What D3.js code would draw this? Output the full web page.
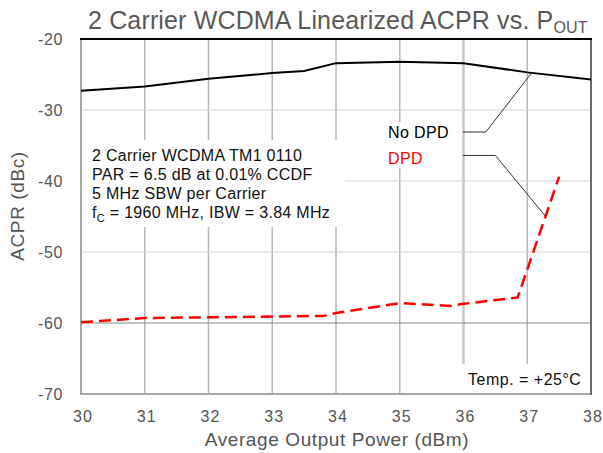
<!DOCTYPE html>
<html>
<head>
<meta charset="utf-8">
<script src="https://cdn.jsdelivr.net/npm/d3@7"></script>
<style>
  body { margin: 0; background: #fff; }
  text { font-family: "Liberation Sans", Arial, sans-serif; }
</style>
</head>
<body>
<svg id="chart" width="603" height="453"></svg>
<script>
// values
const xTicks = [30, 31, 32, 33, 34, 35, 36, 37, 38];
const yTicks = [-20, -30, -40, -50, -60, -70];

const noDpdX = [30, 31, 32, 33, 33.5, 34, 35, 36, 37, 38];
const noDpdY = [-27.3, -26.7, -25.6, -24.8, -24.5, -23.4, -23.2, -23.4, -24.7, -25.7];

const dpdX = [30, 31, 32, 33, 33.8, 34, 35, 35.8, 36, 36.85, 37.5];
const dpdY = [-59.9, -59.3, -59.2, -59.1, -59.0, -58.6, -57.2, -57.6, -57.3, -56.4, -39.4];

const infoLines = [
  "2 Carrier WCDMA TM1 0110",
  "PAR = 6.5 dB at 0.01% CCDF",
  "5 MHz SBW per Carrier"
];

const svg = d3.select("#chart");
const plotL = 81, plotR = 591, plotT = 39, plotB = 394;

const x = d3.scaleLinear().domain([30, 38]).range([plotL, plotR]);
const y = d3.scaleLinear().domain([-70, -20]).range([plotB, plotT]);

// gridlines
svg.append("g").selectAll("line")
  .data(xTicks.slice(1, -1))
  .join("line")
  .attr("x1", d => x(d)).attr("x2", d => x(d))
  .attr("y1", plotT).attr("y2", plotB)
  .attr("stroke", d => d === 36 ? "#c8c8c8" : "#b8b8b8")
  .attr("stroke-width", d => d === 36 ? 2.5 : 1.5);

svg.append("g").selectAll("line")
  .data(yTicks.slice(1, -1))
  .join("line")
  .attr("x1", plotL).attr("x2", plotR)
  .attr("y1", d => y(d)).attr("y2", d => y(d))
  .attr("stroke", d => d === -60 ? "#8c8c8c" : "#d4d4d4")
  .attr("stroke-width", 1.2);

// white label boxes that hide the grid
svg.append("rect").attr("x", 83).attr("y", 140).attr("width", 262).attr("height", 87).attr("fill", "#fff");
svg.append("rect").attr("x", 380).attr("y", 122).attr("width", 78).attr("height", 46).attr("fill", "#fff");
svg.append("rect").attr("x", 460).attr("y", 364).attr("width", 129).attr("height", 30).attr("fill", "#fff");

// frame
svg.append("line").attr("x1", plotL).attr("x2", plotL).attr("y1", plotT).attr("y2", plotB + 1)
  .attr("stroke", "#a8a8a8").attr("stroke-width", 2);
svg.append("line").attr("x1", plotL).attr("x2", plotR + 1).attr("y1", plotB).attr("y2", plotB)
  .attr("stroke", "#a8a8a8").attr("stroke-width", 2);
svg.append("line").attr("x1", plotR).attr("x2", plotR).attr("y1", plotT).attr("y2", plotB + 1)
  .attr("stroke", "#6a6a6a").attr("stroke-width", 2);
svg.append("line").attr("x1", plotL - 1).attr("x2", plotR + 1).attr("y1", plotT).attr("y2", plotT)
  .attr("stroke", "#000").attr("stroke-width", 2);

// data lines
const line = d3.line().x(d => x(d[0])).y(d => y(d[1]));

svg.append("path")
  .datum(d3.zip(noDpdX, noDpdY))
  .attr("d", line)
  .attr("fill", "none")
  .attr("stroke", "#000")
  .attr("stroke-width", 2);

svg.append("path")
  .datum(d3.zip(dpdX, dpdY))
  .attr("d", line)
  .attr("fill", "none")
  .attr("stroke", "#ff0000")
  .attr("stroke-width", 2.5)
  .attr("stroke-dasharray", "12,6");

// callouts
svg.append("path")
  .attr("d", d3.line()([[x(35.99), y(-33.1)], [x(36.35), y(-33.1)], [x(37.07), y(-24.75)]]))
  .attr("fill", "none").attr("stroke", "#333").attr("stroke-width", 1);
svg.append("path")
  .attr("d", d3.line()([[x(35.99), y(-36.4)], [x(36.5), y(-36.4)], [x(37.28), y(-44.9)]]))
  .attr("fill", "none").attr("stroke", "#333").attr("stroke-width", 1);

svg.append("text").attr("x", 388).attr("y", 138).attr("font-size", 16).attr("letter-spacing", 0.4)
  .attr("fill", "#000").text("No DPD");
svg.append("text").attr("x", 388).attr("y", 164).attr("font-size", 16).attr("letter-spacing", 0.4)
  .attr("fill", "#ff0000").text("DPD");

// info box
const info = svg.append("text").attr("font-size", 16).attr("letter-spacing", 0.3).attr("fill", "#111");
infoLines.forEach((s, i) => {
  info.append("tspan").attr("x", 92).attr("y", 161 + i * 19).text(s);
});
const fc = info.append("tspan").attr("x", 92).attr("y", 161 + 3 * 19);
fc.append("tspan").text("f");
fc.append("tspan").attr("dy", 4).attr("font-size", 11).text("C");
fc.append("tspan").attr("dy", -4).text(" = 1960 MHz, IBW = 3.84 MHz");

svg.append("text").attr("x", 468).attr("y", 385).attr("font-size", 16).attr("letter-spacing", 0.5)
  .attr("fill", "#111").text("Temp. = +25°C");

// tick labels
svg.append("g").selectAll("text")
  .data(yTicks)
  .join("text")
  .attr("x", 63).attr("y", d => y(d) + 6)
  .attr("text-anchor", "end")
  .attr("font-size", 16)
  .attr("letter-spacing", 0.6)
  .attr("fill", "#555")
  .text(d => d);

svg.append("g").selectAll("text")
  .data(xTicks)
  .join("text")
  .attr("x", d => x(d) + 2).attr("y", 422)
  .attr("text-anchor", "middle")
  .attr("font-size", 16)
  .attr("letter-spacing", 1.2)
  .attr("fill", "#555")
  .text(d => d);

// axis titles
svg.append("text")
  .attr("x", 337).attr("y", 446)
  .attr("text-anchor", "middle")
  .attr("font-size", 19)
  .attr("letter-spacing", 0.6)
  .attr("fill", "#555")
  .text("Average Output Power (dBm)");

svg.append("text")
  .attr("transform", "translate(24,206) rotate(-90)")
  .attr("text-anchor", "middle")
  .attr("font-size", 19)
  .attr("letter-spacing", 0.6)
  .attr("fill", "#555")
  .text("ACPR (dBc)");

// title
const title = svg.append("text").attr("x", 88).attr("y", 29).attr("font-size", 25)
  .attr("letter-spacing", 0.15).attr("fill", "#595959");
title.append("tspan").text("2 Carrier WCDMA Linearized ACPR vs. P");
title.append("tspan").attr("dy", 4).attr("font-size", 16).text("OUT");
</script>
</body>
</html>
